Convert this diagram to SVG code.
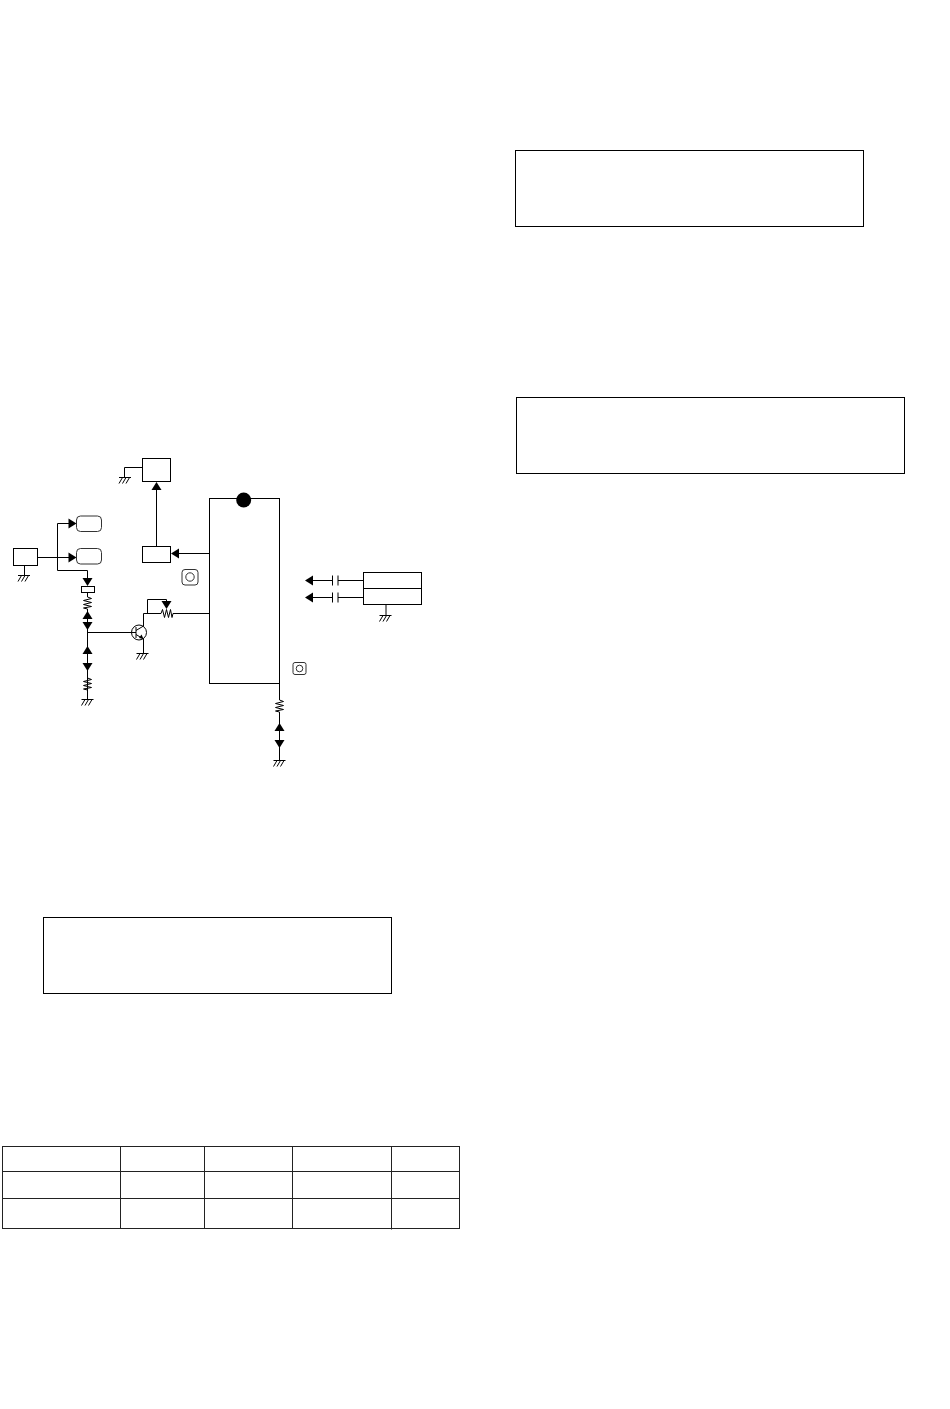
<svg xmlns="http://www.w3.org/2000/svg" xmlns:xlink="http://www.w3.org/1999/xlink" width="950" height="1409" viewBox="0 0 950 1409">
<style>
.b{fill:#fff;stroke:#000;stroke-width:1}
.r{fill:#fff;stroke:#333;stroke-width:1}
.w{fill:none;stroke:#000;stroke-width:1}
.t{fill:none;stroke:#222;stroke-width:1}
.a{fill:#000;stroke:none}
</style>
<defs>
<g id="gnd"><path class="w" d="M-6 0H6M-2.500 0L-6 6M1 0L-2.500 6M4.500 0L1 6"/></g>
<g id="up"><path class="a" d="M0 0L-5 8H5Z"/></g>
<g id="down"><path class="a" d="M0 0L-5 -8H5Z"/></g>
<g id="left"><path class="a" d="M0 0L8 -5V5Z"/></g>
<g id="right"><path class="a" d="M0 0L-8 -5V5Z"/></g>
<g id="res"><path class="w" d="M0 0L4 1.500L-4 3.500L4 5.500L-4 7.500L4 9.500L-4 11L0 12"/></g>
</defs>
<rect width="950" height="1409" fill="#fff"/>
<g id="connectors">
<path class="w" d="M142 467.500H124.500V477"/>
<path class="w" d="M156.500 546.500V488"/>
<use xlink:href="#up" x="156.500" y="482"/>
<path class="w" d="M209.500 553.500H177"/>
<use xlink:href="#left" x="171" y="553.500"/>
<path class="w" d="M24.500 565.500V575"/>
<use xlink:href="#gnd" x="24" y="575.500"/>
<use xlink:href="#gnd" x="125" y="477.500"/>
<path class="w" d="M37.500 557.500H70M70 523.500H57.500V570.500H87.500V580"/>
<use xlink:href="#right" x="76.500" y="523.500"/>
<use xlink:href="#right" x="76.500" y="557.500"/>
<use xlink:href="#down" x="87.500" y="586"/>
<use xlink:href="#res" x="87.500" y="597"/>
<path class="w" d="M87.500 592.500V597M87.500 609V699"/>
<use xlink:href="#up" x="87.500" y="611"/>
<use xlink:href="#down" x="87.500" y="630"/>
<path class="w" d="M87.500 632.500H136"/>
<use xlink:href="#up" x="87.500" y="646"/>
<use xlink:href="#down" x="87.500" y="671"/>
<use xlink:href="#res" x="87.500" y="678"/>
<use xlink:href="#gnd" x="87.500" y="699.500"/>
<path class="w" d="M143.500 626V613.500H161M173 613.500H209.500"/>
<path class="w" d="M147.500 613.500V599.500H166.500V603"/>
<use xlink:href="#down" x="166.500" y="609"/>
<path class="w" d="M161 613.500L162.500 609.500L164.500 617.500L166.500 609.500L168.500 617.500L170.500 609.500L172 617.500L173 613.500"/>
<path class="w" d="M143.500 639V653"/>
<use xlink:href="#gnd" x="142.500" y="653.500"/>
<path class="w" d="M279.500 683V700M279.500 712V760"/>
<use xlink:href="#res" x="279.500" y="700"/>
<use xlink:href="#up" x="279.500" y="723"/>
<use xlink:href="#down" x="279.500" y="748"/>
<use xlink:href="#gnd" x="279.500" y="760.500"/>
<path class="w" d="M313 580.500H332.500M338 580.500H363.500M313 597.500H332.500M338 597.500H363.500"/>
<path class="w" d="M332.500 575.500V585.500M338 575.500V585.500M332.500 592.500V602.500M338 592.500V602.500"/>
<use xlink:href="#left" x="305" y="580.500"/>
<use xlink:href="#left" x="305" y="597.500"/>
<path class="w" d="M386 604.500V615"/>
<use xlink:href="#gnd" x="385.500" y="615.500"/>
</g>
<g id="node-top-box"><rect class="b" x="142.500" y="458.500" width="28" height="23"/></g>
<g id="node-mid-box"><rect class="b" x="142.500" y="546.500" width="28" height="16"/></g>
<g id="node-left-box"><rect class="b" x="13.500" y="548.500" width="24" height="17"/></g>
<g id="node-pill-1"><rect class="r" x="76.500" y="516" width="25" height="15.500" rx="4"/></g>
<g id="node-pill-2"><rect class="r" x="76.500" y="548.500" width="25" height="15.500" rx="4"/></g>
<g id="node-small-box"><rect class="b" x="81.500" y="586.500" width="13" height="6"/></g>
<g id="node-chip"><rect class="w" x="209.500" y="498.500" width="70" height="185"/><circle cx="243.700" cy="500" r="7.500" fill="#000"/></g>
<g id="node-transistor"><circle class="w" cx="139" cy="632.500" r="7.500"/><path class="w" d="M136 627V638M136 630.500L143.500 626M136 634.500L143.500 639"/><path class="a" d="M143.500 639L139 638L141.500 634.500Z"/></g>
<g id="node-right-box"><rect class="b" x="363.500" y="572.500" width="58" height="16"/><rect class="b" x="363.500" y="588.500" width="58" height="16"/></g>
<g id="node-mark-1"><rect class="r" x="182" y="569.500" width="16" height="15.500" rx="3"/><circle class="r" cx="190" cy="577" r="4.200"/></g>
<g id="node-mark-2"><rect class="r" x="293" y="662.500" width="13" height="12" rx="2"/><circle class="r" cx="299.500" cy="668.500" r="3.300"/></g>
<g id="node-frame-1"><rect class="b" x="515.500" y="150.500" width="348" height="76"/></g>
<g id="node-frame-2"><rect class="b" x="516.500" y="397.500" width="388" height="76"/></g>
<g id="node-frame-3"><rect class="b" x="43.500" y="917.500" width="348" height="76"/></g>
<g id="node-table">
<rect class="t" x="2.500" y="1146.500" width="457" height="82"/>
<path class="t" d="M2.500 1171.500H459.500M2.500 1198.500H459.500M120.500 1146.500V1228.500M204.500 1146.500V1228.500M292.500 1146.500V1228.500M391.500 1146.500V1229.500"/>
</g>
</svg>
